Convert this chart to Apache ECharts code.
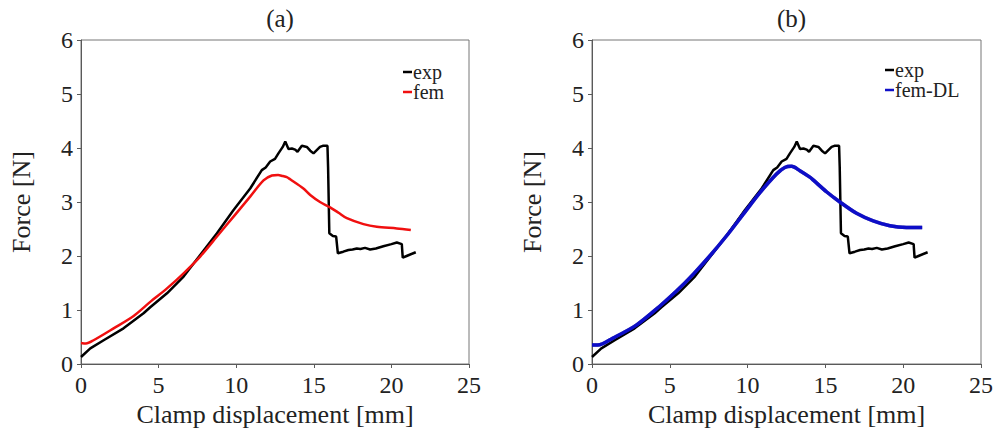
<!DOCTYPE html>
<html>
<head>
<meta charset="utf-8">
<script src="https://cdn.jsdelivr.net/npm/echarts@6/dist/echarts.min.js"></script>
<style>
  html, body { margin: 0; padding: 0; background: #fff; }
  #chart { width: 997px; height: 433px; }
</style>
</head>
<body>
<div id="chart"></div>
<script>
// Measured force vs clamp displacement (shared by both panels)
const expX = [0, 0.6, 1.46, 2.74, 4.03, 4.46, 5.54, 6.61, 7.68, 8.76, 9.83, 10.9, 11.65, 11.9, 12.19, 12.5, 12.72, 13.0, 13.16, 13.37, 13.59, 13.8, 13.95, 14.23, 14.55, 14.77, 14.98, 15.4, 15.58, 15.88, 15.92, 16.0, 16.23, 16.44, 16.55, 16.9, 17.23, 17.5, 17.77, 18.0, 18.3, 18.63, 19.0, 19.48, 20.0, 20.35, 20.67, 20.73, 20.98, 21.57];
const expY = [0.13, 0.29, 0.44, 0.66, 0.94, 1.05, 1.31, 1.62, 2.02, 2.42, 2.85, 3.25, 3.59, 3.64, 3.75, 3.80, 3.90, 4.02, 4.12, 3.98, 3.99, 3.97, 3.93, 4.04, 4.02, 3.95, 3.90, 4.02, 4.04, 4.04, 3.65, 2.42, 2.37, 2.36, 2.05, 2.08, 2.11, 2.12, 2.14, 2.13, 2.15, 2.12, 2.14, 2.18, 2.22, 2.25, 2.22, 1.97, 2.00, 2.07];

// Finite element prediction, panel (a)
const femX = [0, 0.32, 0.81, 2.1, 3.39, 4.46, 5.54, 6.61, 7.68, 8.76, 9.83, 10.9, 11.76, 12.3, 12.7, 13.0, 13.26, 13.48, 14.33, 14.77, 15.4, 16.05, 16.6, 17.13, 18.2, 19.06, 20.35, 21.25];
const femY = [0.39, 0.38, 0.44, 0.66, 0.89, 1.15, 1.40, 1.68, 1.99, 2.36, 2.73, 3.10, 3.40, 3.49, 3.50, 3.48, 3.46, 3.42, 3.25, 3.13, 3.00, 2.90, 2.80, 2.70, 2.59, 2.54, 2.51, 2.48];

// Finite element prediction with DL model, panel (b)
const femDLX = [0, 0.37, 1.35, 2.85, 4.35, 5.43, 6.5, 7.57, 8.64, 9.71, 10.78, 11.86, 12.39, 12.82, 13.36, 14.0, 14.21, 15.07, 15.93, 17.0, 18.07, 19.14, 20.2, 21.22];
const femDLY = [0.35, 0.35, 0.48, 0.72, 1.07, 1.35, 1.66, 2.00, 2.37, 2.77, 3.17, 3.52, 3.64, 3.66, 3.58, 3.46, 3.41, 3.19, 3.00, 2.79, 2.65, 2.56, 2.53, 2.53];

const panelTitles = ['(a)', '(b)'];
const xTicks = [0, 5, 10, 15, 20, 25];
const yTicks = [0, 1, 2, 3, 4, 5, 6];
const xName = 'Clamp displacement [mm]';
const yName = 'Force [N]';

const pairs = (xs, ys) => xs.map((x, i) => [x, ys[i]]);

const FONT = 'Liberation Serif';
const axisGrey = '#5a5a5a';
const textColor = '#222';

const grids = [
  { left: 81, top: 40, width: 388, height: 324 },
  { left: 592, top: 40, width: 389, height: 324 }
];

function xAxisFor(i) {
  return {
    gridIndex: i, type: 'value',
    min: xTicks[0], max: xTicks[xTicks.length - 1], interval: xTicks[1] - xTicks[0],
    name: xName, nameLocation: 'middle', nameGap: 36,
    nameTextStyle: { fontFamily: FONT, fontSize: 26, color: textColor },
    axisLine: { show: true, lineStyle: { color: axisGrey, width: 1 } },
    axisTick: { show: true, inside: false, length: 4, lineStyle: { color: axisGrey } },
    axisLabel: { fontFamily: FONT, fontSize: 24, color: textColor, margin: 9 },
    splitLine: { show: false }
  };
}
function yAxisFor(i) {
  return {
    gridIndex: i, type: 'value',
    min: yTicks[0], max: yTicks[yTicks.length - 1], interval: yTicks[1] - yTicks[0],
    name: yName, nameLocation: 'middle', nameGap: 47,
    nameTextStyle: { fontFamily: FONT, fontSize: 26, color: textColor },
    axisLine: { show: true, lineStyle: { color: axisGrey, width: 1 } },
    axisTick: { show: true, inside: false, length: 4, lineStyle: { color: axisGrey } },
    axisLabel: { fontFamily: FONT, fontSize: 24, color: textColor, margin: 8 },
    splitLine: { show: false }
  };
}

function legendFor(left, top, names) {
  return {
    left: left, top: top, orient: 'vertical', itemGap: 0,
    icon: 'rect', itemWidth: 9, itemHeight: 2.5,
    data: names,
    textStyle: { fontFamily: FONT, fontSize: 20, color: textColor, lineHeight: 16, padding: [0, 0, 0, -4] }
  };
}

const chart = echarts.init(document.getElementById('chart'), null, { renderer: 'svg' });

chart.setOption({
  backgroundColor: '#fff',
  animation: false,
  title: panelTitles.map((t, i) => ({
    text: t,
    left: grids[i].left + grids[i].width / 2,
    textAlign: 'center',
    top: 1,
    textStyle: { fontFamily: FONT, fontSize: 25, fontWeight: 'normal', color: textColor }
  })),
  grid: grids.map(g => Object.assign({ show: true, borderColor: '#777', borderWidth: 1, backgroundColor: 'transparent' }, g)),
  xAxis: [xAxisFor(0), xAxisFor(1)],
  yAxis: [yAxisFor(0), yAxisFor(1)],
  legend: [
    legendFor(398, 57, ['exp', 'fem']),
    legendFor(880, 55, ['exp', 'fem-DL'])
  ],
  series: [
    {
      name: 'exp', type: 'line', xAxisIndex: 0, yAxisIndex: 0,
      data: pairs(expX, expY), showSymbol: false, symbol: 'none',
      lineStyle: { color: '#000', width: 2.5 }, itemStyle: { color: '#000' }, z: 3
    },
    {
      name: 'fem', type: 'line', xAxisIndex: 0, yAxisIndex: 0,
      data: pairs(femX, femY), showSymbol: false, symbol: 'none', smooth: 0.3,
      lineStyle: { color: '#f01010', width: 2.5 }, itemStyle: { color: '#f01010' }, z: 4
    },
    {
      name: 'exp', type: 'line', xAxisIndex: 1, yAxisIndex: 1,
      data: pairs(expX, expY), showSymbol: false, symbol: 'none',
      lineStyle: { color: '#000', width: 2.5 }, itemStyle: { color: '#000' }, z: 3
    },
    {
      name: 'fem-DL', type: 'line', xAxisIndex: 1, yAxisIndex: 1,
      data: pairs(femDLX, femDLY), showSymbol: false, symbol: 'none', smooth: 0.3,
      lineStyle: { color: '#1010c8', width: 3.5, shadowColor: 'rgba(0,0,40,0.6)', shadowBlur: 1 },
      itemStyle: { color: '#1010c8' }, z: 4
    }
  ]
});
</script>
</body>
</html>
